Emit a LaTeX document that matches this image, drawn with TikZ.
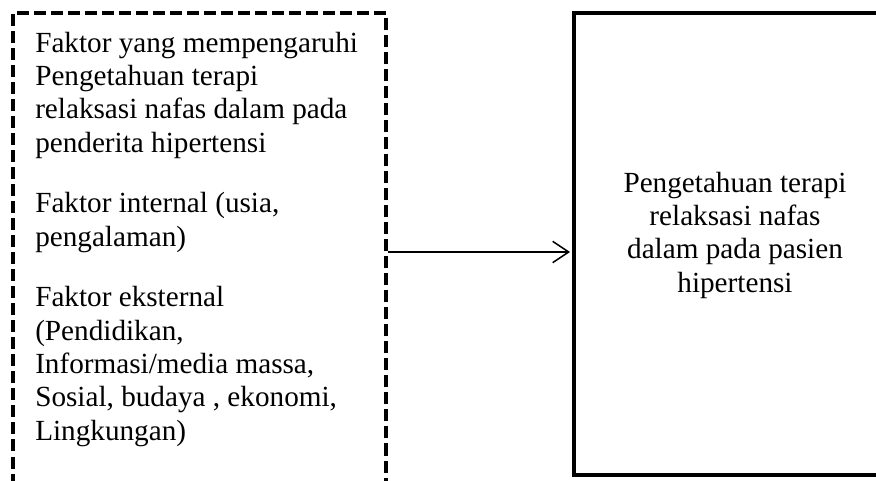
\documentclass[tikz,border=0pt]{standalone}
\usepackage{fontspec}
\setmainfont{Liberation Serif}
\usetikzlibrary{arrows.meta}

\begin{document}
\begin{tikzpicture}[x=0.75pt, y=-0.75pt,
  kotak/.style={draw, line width=3pt, inner sep=0pt},
  teks/.style={inner sep=0pt, font=\fontsize{21.9pt}{25pt}\selectfont},
  panah/.style={-{Straight Barb[length=12pt, width=16pt]}, line width=1.1pt}]
  \useasboundingbox (0,0) rectangle (876,481);
  \clip (0,0) rectangle (876,481);
  \node (faktor) at (199.5,252) [kotak, dash pattern=on 9pt off 3.75pt, minimum width=279.75pt, minimum height=357.75pt] {};
  \node (hasil) at (735,244) [kotak, minimum width=241.5pt, minimum height=346.5pt] {};
  \node (faktorteks) at (35,31.8) [teks, anchor=north west, align=left] {Faktor yang mempengaruhi\\ Pengetahuan terapi\\ relaksasi nafas dalam pada\\ penderita hipertensi\\[20.4pt] Faktor internal (usia,\\ pengalaman)\\[20.4pt] Faktor eksternal\\ (Pendidikan,\\ Informasi/media massa,\\ Sosial, budaya , ekonomi,\\ Lingkungan)};
  \node (hasilteks) at (735,171.8) [teks, anchor=north, align=center] {Pengetahuan terapi\\ relaksasi nafas\\ dalam pada pasien\\ hipertensi};
  \draw[panah, shorten >=1.5pt] (faktor.east) -- (faktor.east -| hasil.west);
\end{tikzpicture}
\end{document}
